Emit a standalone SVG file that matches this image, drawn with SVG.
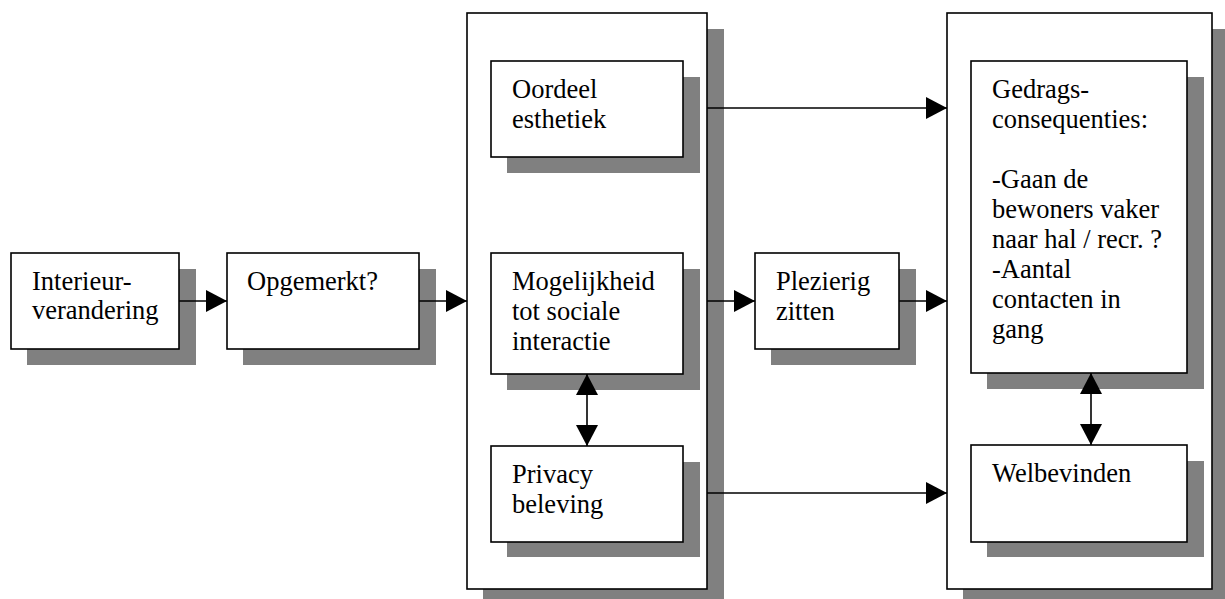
<svg xmlns="http://www.w3.org/2000/svg" width="1225" height="599" viewBox="0 0 1225 599" font-family="'Liberation Serif', 'Times New Roman', Times, serif">
  <defs>
    <style>
      .sh { fill: #808080; }
      .bx { fill: #ffffff; stroke: #000000; stroke-width: 1.6; }
      .tx { font-family: 'Liberation Serif', 'Times New Roman', Times, serif; font-size: 26.5px; fill: #000000; }
      .ln { stroke: #000000; stroke-width: 1.6; fill: none; }
    </style>
    <marker id="ah" viewBox="0 0 21 22" refX="21" refY="11" markerWidth="21" markerHeight="22" markerUnits="userSpaceOnUse" orient="auto-start-reverse">
      <path d="M0,0 L21,11 L0,22 Z" fill="#000000"/>
    </marker>
  </defs>
  <rect width="1225" height="599" fill="#ffffff"/>

  <g id="group-left">
    <rect class="sh" x="483" y="29" width="241" height="576"/>
    <rect class="bx" x="467" y="13" width="240" height="576"/>
  </g>
  <g id="group-right">
    <rect class="sh" x="963" y="29" width="266" height="576"/>
    <rect class="bx" x="947" y="13" width="265" height="576"/>
  </g>

  <g id="interieur">
    <rect class="sh" x="27" y="269" width="169" height="96"/>
    <rect class="bx" x="11" y="253" width="168" height="96"/>
    <text class="tx" x="32" y="290">Interieur-</text>
    <text class="tx" x="32" y="319">verandering</text>
  </g>

  <g id="opgemerkt">
    <rect class="sh" x="243" y="269" width="193" height="96"/>
    <rect class="bx" x="227" y="253" width="192" height="96"/>
    <text class="tx" x="247" y="290">Opgemerkt?</text>
  </g>

  <g id="oordeel">
    <rect class="sh" x="507" y="77" width="193" height="96"/>
    <rect class="bx" x="491" y="61" width="192" height="96"/>
    <text class="tx" x="512" y="98">Oordeel</text>
    <text class="tx" x="512" y="128">esthetiek</text>
  </g>

  <g id="mogelijkheid">
    <rect class="sh" x="507" y="269" width="193" height="121"/>
    <rect class="bx" x="491" y="253" width="192" height="121"/>
    <text class="tx" x="512" y="290">Mogelijkheid</text>
    <text class="tx" x="512" y="320">tot sociale</text>
    <text class="tx" x="512" y="350">interactie</text>
  </g>

  <g id="privacy">
    <rect class="sh" x="507" y="462" width="193" height="95"/>
    <rect class="bx" x="491" y="446" width="192" height="96"/>
    <text class="tx" x="512" y="483">Privacy</text>
    <text class="tx" x="512" y="513">beleving</text>
  </g>

  <g id="plezierig">
    <rect class="sh" x="771" y="269" width="145" height="96"/>
    <rect class="bx" x="755" y="253" width="144" height="96"/>
    <text class="tx" x="776" y="290">Plezierig</text>
    <text class="tx" x="776" y="320">zitten</text>
  </g>

  <g id="gedrags">
    <rect class="sh" x="987" y="77" width="217" height="312"/>
    <rect class="bx" x="971" y="61" width="216" height="312"/>
    <text class="tx" x="992" y="98">Gedrags-</text>
    <text class="tx" x="992" y="128">consequenties:</text>
    <text class="tx" x="992" y="188">-Gaan de</text>
    <text class="tx" x="992" y="218">bewoners vaker</text>
    <text class="tx" x="992" y="248">naar hal / recr. ?</text>
    <text class="tx" x="992" y="278">-Aantal</text>
    <text class="tx" x="992" y="308">contacten in</text>
    <text class="tx" x="992" y="338">gang</text>
  </g>

  <g id="welbevinden">
    <rect class="sh" x="987" y="461" width="217" height="96"/>
    <rect class="bx" x="971" y="445" width="216" height="97"/>
    <text class="tx" x="992" y="482">Welbevinden</text>
  </g>

  <g id="connectors">
    <line class="ln" x1="179" y1="301" x2="227" y2="301" marker-end="url(#ah)"/>
    <line class="ln" x1="419" y1="301" x2="467" y2="301" marker-end="url(#ah)"/>
    <line class="ln" x1="707" y1="108" x2="947" y2="108" marker-end="url(#ah)"/>
    <line class="ln" x1="707" y1="301" x2="755" y2="301" marker-end="url(#ah)"/>
    <line class="ln" x1="899" y1="301" x2="947" y2="301" marker-end="url(#ah)"/>
    <line class="ln" x1="707" y1="493" x2="947" y2="493" marker-end="url(#ah)"/>
    <line class="ln" x1="587" y1="374" x2="587" y2="446" marker-start="url(#ah)" marker-end="url(#ah)"/>
    <line class="ln" x1="1091" y1="373" x2="1091" y2="445" marker-start="url(#ah)" marker-end="url(#ah)"/>
  </g>
</svg>
